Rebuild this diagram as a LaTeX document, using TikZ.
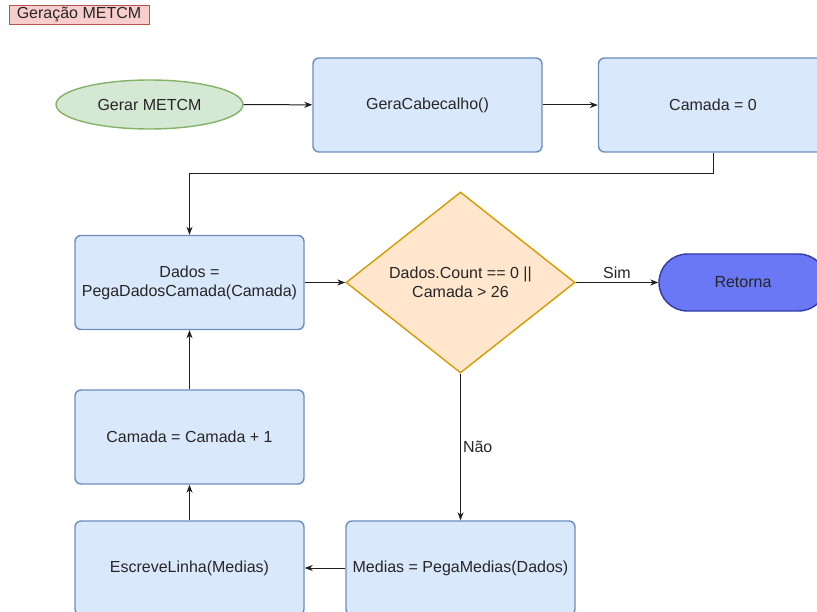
\documentclass[tikz,border=0pt]{standalone}
\usepackage{fontspec}
\setmainfont{Liberation Sans}
\usetikzlibrary{shapes.geometric,shapes.misc,arrows.meta}

\definecolor{boxfill}{HTML}{DAE8FC}
\definecolor{boxline}{HTML}{6C8EBF}
\definecolor{startfill}{HTML}{D5E8D4}
\definecolor{startline}{HTML}{82B366}
\definecolor{condfill}{HTML}{FFE6CC}
\definecolor{condline}{HTML}{D79B00}
\definecolor{endfill}{RGB}{106,120,245}
\definecolor{endline}{RGB}{48,58,168}
\definecolor{titlefill}{HTML}{F8CECC}
\definecolor{titleline}{HTML}{B85450}
\definecolor{wire}{RGB}{30,30,30}

\tikzset{
  every node/.style={font=\fontsize{16}{19}\selectfont, text=black!85},
  procbox/.style={draw=boxline, fill=boxfill, line width=1.4pt, rounded corners=6pt,
    minimum width=229pt, minimum height=94pt, align=center, inner sep=2pt},
  startnode/.style={ellipse, draw=startline, fill=startfill, line width=1.4pt,
    minimum width=187pt, minimum height=49pt, inner sep=0pt},
  condnode/.style={diamond, draw=condline, fill=condfill, line width=1.4pt,
    minimum width=229pt, minimum height=181pt, inner sep=0pt},
  condtext/.style={align=center, inner sep=0pt},
  endnode/.style={rounded rectangle, draw=endline, fill=endfill, line width=1.4pt,
    minimum width=168pt, minimum height=57pt, inner sep=0pt},
  titlebox/.style={draw=titleline, fill=titlefill, line width=0.8pt,
    minimum width=140pt, minimum height=19pt, inner sep=0pt},
  arr/.style={draw=wire, line width=1pt, -{Stealth[length=8pt,width=6pt,inset=2.5pt]}},
  lbl/.style={font=\fontsize{16}{19}\selectfont, inner sep=1pt}
}

\begin{document}
\begin{tikzpicture}[x=1pt,y=-1pt]
  \useasboundingbox (0,0) rectangle (817,612);

  % title tag
  \node[titlebox] (title) at (79,14.5) {Geração METCM};

  % top row
  \node[startnode] (start) at (149.5,104.5) {Gerar METCM};
  \node[procbox] (cab) at (427.5,105) {GeraCabecalho()};
  \node[procbox] (zero) at (713,105) {Camada = 0};

  % loop
  \node[procbox] (dados) at (189.5,282.5) {Dados =\\PegaDadosCamada(Camada)};
  \node[condnode] (cond) at (460.5,282.5) {};
  \node[condtext] (condlbl) at (cond.center) {Dados.Count == 0 ||\\Camada > 26};
  \node[endnode] (ret) at (743,282.5) {Retorna};
  \node[procbox] (inc) at (189.5,437) {Camada = Camada + 1};
  \node[procbox] (esc) at (189.5,568) {EscreveLinha(Medias)};
  \node[procbox] (med) at (460.5,568) {Medias = PegaMedias(Dados)};

  % connectors
  \draw[arr] (start) -- (cab);
  \draw[arr] (cab) -- (zero);
  \draw[arr] (zero.south) -- ++(0,21) -| (dados.north);
  \draw[arr] (dados) -- (cond);
  \draw[arr] (cond.east) -- node[lbl, above=2pt] {Sim} (ret.west);
  \draw[arr] (cond.south) -- node[lbl, right=1pt] {Não} (med.north);
  \draw[arr] (med.west) -- (esc.east);
  \draw[arr] (esc.north) -- (inc.south);
  \draw[arr] (inc.north) -- (dados.south);
\end{tikzpicture}
\end{document}
